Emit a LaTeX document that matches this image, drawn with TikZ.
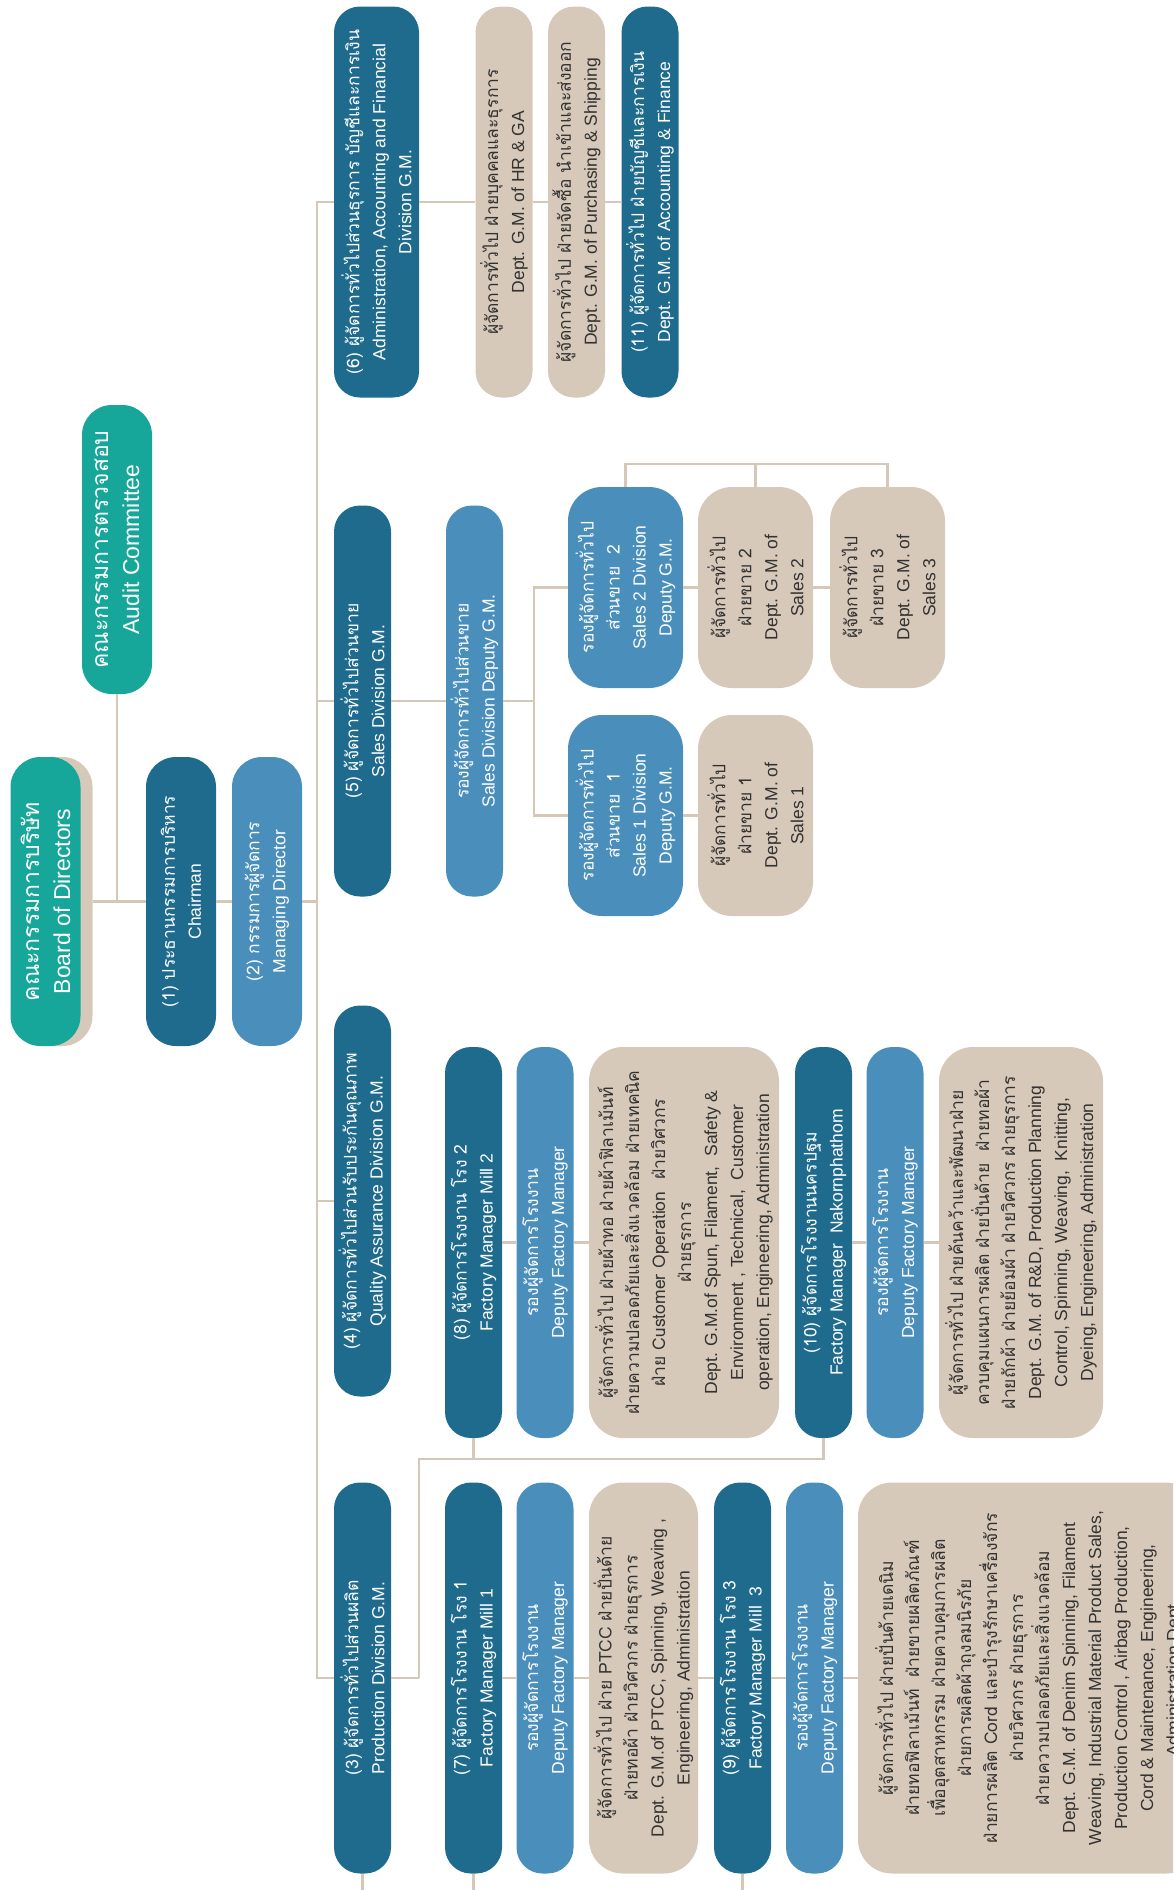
\documentclass[tikz,border=0pt]{standalone}
\usepackage{fontspec}
\setmainfont{Liberation Sans}
\newfontfamily\thaifont[Script=Thai]{Loma}
\usepackage{tikz}
\newcommand*{\thtext}[1]{{\thaifont #1}}
\newcommand*{\fs}{\fontsize{17.5}{26}\selectfont}
\newcommand*{\fsbig}{\fontsize{23}{31}\selectfont}
\definecolor{boardgreen}{RGB}{22,166,154}
\definecolor{chiefblue}{RGB}{30,107,142}
\definecolor{deputyblue}{RGB}{74,143,188}
\definecolor{depttan}{RGB}{214,201,185}
\definecolor{depttext}{RGB}{50,50,50}
\definecolor{linetan}{RGB}{214,200,184}
\tikzstyle{box} = [rectangle, rounded corners=26pt, rotate=90, align=center, inner sep=0pt, font=\fs]
\tikzstyle{card} = [minimum width=201pt, minimum height=115pt, rounded corners=34pt]
\tikzstyle{chief} = [box, pill, fill=chiefblue, text=white]
\tikzstyle{dept} = [box, pill, fill=depttan, text=depttext, rounded corners=34pt]
\tikzstyle{deputy} = [box, pill, fill=deputyblue, text=white]
\tikzstyle{link} = [draw=linetan, line width=2.8pt]
\tikzstyle{pill} = [minimum width=391pt, minimum height=57pt]
\tikzstyle{top} = [minimum width=289pt, minimum height=70pt, rounded corners=30pt]

\begin{document}
\begin{tikzpicture}[x=1pt, y=-1pt]
    \useasboundingbox (0, 0) rectangle (1173, 1890);
    \clip (0, 0) rectangle (1173, 1890);

    % Board level.
    \node (board shadow) [box, top, fill=depttan] at (57.5, 901.5) {};
    \node (board) [box, top, fill=boardgreen, text=white, font=\fsbig] at (45.5, 901.5)
        {\thtext{คณะกรรมการบริษัท}\\Board of Directors};
    \node (audit) [box, top, fill=boardgreen, text=white, font=\fsbig] at (117, 549.5)
        {\thtext{คณะกรรมการตรวจสอบ}\\Audit Committee};
    \node (chairman) [chief, top] at (181, 901.5)
        {\thtext{(1) ประธานกรรมการบริหาร}\\Chairman};
    \node (md) [deputy, top] at (267, 901.5)
        {\thtext{(2) กรรมการผู้จัดการ}\\Managing Director};

    % Administration.
    \node (admin) [chief, minimum height=85pt] at (376.5, 202)
        {\thtext{(6) ผู้จัดการทั่วไปส่วนธุรการ บัญชีและการเงิน}\\Administration, Accounting and Financial\\Division G.M.};
    \node (hr) [dept, rounded corners=26pt] at (504, 202)
        {\thtext{ผู้จัดการทั่วไป ฝ่ายบุคคลและธุรการ}\\Dept. G.M. of HR \& GA};
    \node (purchasing) [dept, rounded corners=26pt] at (576.5, 202)
        {\thtext{ผู้จัดการทั่วไป ฝ่ายจัดซื้อ นำเข้าและส่งออก}\\Dept. G.M. of Purchasing \& Shipping};
    \node (accounting) [chief] at (650, 202)
        {\thtext{(11) ผู้จัดการทั่วไป ฝ่ายบัญชีและการเงิน}\\Dept. G.M. of Accounting \& Finance};

    % Sales.
    \node (sales) [chief] at (362.5, 701)
        {\thtext{(5) ผู้จัดการทั่วไปส่วนขาย}\\Sales Division G.M.};
    \node (sales deputy) [deputy] at (474.5, 701)
        {\thtext{รองผู้จัดการทั่วไปส่วนขาย}\\Sales Division Deputy G.M.};
    \node (sales2 deputy) [deputy, card] at (625.5, 587.5)
        {\thtext{รองผู้จัดการทั่วไป}\\\thtext{ส่วนขาย~~2}\\Sales 2 Division\\Deputy G.M.};
    \node (sales2) [dept, card] at (755.5, 587.5)
        {\thtext{ผู้จัดการทั่วไป}\\\thtext{ฝ่ายขาย 2}\\Dept. G.M. of\\Sales 2};
    \node (sales3) [dept, card] at (887.5, 587.5)
        {\thtext{ผู้จัดการทั่วไป}\\\thtext{ฝ่ายขาย 3}\\Dept. G.M. of\\Sales 3};
    \node (sales1 deputy) [deputy, card] at (625.5, 815.5)
        {\thtext{รองผู้จัดการทั่วไป}\\\thtext{ส่วนขาย~~1}\\Sales 1 Division\\Deputy G.M.};
    \node (sales1) [dept, card] at (755.5, 815.5)
        {\thtext{ผู้จัดการทั่วไป}\\\thtext{ฝ่ายขาย 1}\\Dept. G.M. of\\Sales 1};

    % Quality assurance and Mill 2 / Nakornphathom.
    \node (qa) [chief] at (362.5, 1201)
        {\thtext{(4) ผู้จัดการทั่วไปส่วนรับประกันคุณภาพ}\\Quality Assurance Division G.M.};
    \node (mill2 manager) [chief] at (473.5, 1242.5)
        {\thtext{(8) ผู้จัดการโรงงาน โรง 2}\\Factory Manager Mill 2};
    \node (mill2 deputy) [deputy] at (545, 1242.5)
        {\thtext{รองผู้จัดการโรงงาน}\\Deputy Factory Manager};
    \node (mill2 depts) [dept, minimum height=190pt] at (684, 1242.5)
        {\thtext{ผู้จัดการทั่วไป ฝ่ายผ้าทอ ฝ่ายผ้าฟิลาเม้นท์}\\
         \thtext{ฝ่ายความปลอดภัยและสิ่งแวดล้อม ฝ่ายเทคนิค}\\
         \thtext{ฝ่าย Customer Operation~~ฝ่ายวิศวกร}\\
         \thtext{ฝ่ายธุรการ}\\
         Dept. G.M.of Spun, Filament,~~Safety \&\\
         Environment , Technical,~~Customer\\
         operation, Engineering, Administration};
    \node (np manager) [chief] at (823.5, 1242.5)
        {\thtext{(10) ผู้จัดการโรงงานนครปฐม}\\Factory Manager~~Nakornphathom};
    \node (np deputy) [deputy] at (895, 1242.5)
        {\thtext{รองผู้จัดการโรงงาน}\\Deputy Factory Manager};
    \node (np depts) [dept, minimum height=164pt] at (1021, 1242.5)
        {\thtext{ผู้จัดการทั่วไป ฝ่ายค้นคว้าและพัฒนาฝ่าย}\\
         \thtext{ควบคุมแผนการผลิต ฝ่ายปั่นด้าย~~ฝ่ายทอผ้า}\\
         \thtext{ฝ่ายถักผ้า ฝ่ายย้อมผ้า ฝ่ายวิศวกร ฝ่ายธุรการ}\\
         Dept. G.M. of R\&D, Production Planning\\
         Control, Spinning, Weaving,~~Knitting,\\
         Dyeing, Engineering, Administration};

    % Production, Mill 1 and Mill 3.
    \node (production) [chief] at (362.5, 1678)
        {\thtext{(3) ผู้จัดการทั่วไปส่วนผลิต}\\Production Division G.M.};
    \node (mill1 manager) [chief] at (473.5, 1678)
        {\thtext{(7) ผู้จัดการโรงงาน โรง 1}\\Factory Manager Mill 1};
    \node (mill1 deputy) [deputy] at (545, 1678)
        {\thtext{รองผู้จัดการโรงงาน}\\Deputy Factory Manager};
    \node (mill1 depts) [dept, minimum height=109pt] at (643.5, 1678)
        {\thtext{ผู้จัดการทั่วไป ฝ่าย PTCC ฝ่ายปั่นด้าย}\\
         \thtext{ฝ่ายทอผ้า ฝ่ายวิศวกร ฝ่ายธุรการ}\\
         Dept. G.M.of PTCC, Spinning, Weaving ,\\
         Engineering, Administration};
    \node (mill3 manager) [chief] at (742.5, 1678)
        {\thtext{(9) ผู้จัดการโรงงาน โรง 3}\\Factory Manager Mill~~3};
    \node (mill3 deputy) [deputy] at (814.5, 1678)
        {\thtext{รองผู้จัดการโรงงาน}\\Deputy Factory Manager};
    \node (mill3 depts) [dept, minimum height=342pt] at (1029, 1678)
        {\thtext{ผู้จัดการทั่วไป ฝ่ายปั่นด้ายเดนิม}\\
         \thtext{ฝ่ายทอฟิลาเม้นท์~~ฝ่ายขายผลิตภัณฑ์}\\
         \thtext{เพื่ออุตสาหกรรม ฝ่ายควบคุมการผลิต}\\
         \thtext{ฝ่ายการผลิตผ้าถุงลมนิรภัย}\\
         \thtext{ฝ่ายการผลิต Cord และบำรุงรักษาเครื่องจักร}\\
         \thtext{ฝ่ายวิศวกร ฝ่ายธุรการ}\\
         \thtext{ฝ่ายความปลอดภัยและสิ่งแวดล้อม}\\
         Dept. G.M. of Denim Spinning, Filament\\
         Weaving, Industrial Material Product Sales,\\
         Production Control , Airbag Production,\\
         Cord \& Maintenance, Engineering,\\
         Administration Dept.};

    % Fixed points.
    \coordinate (trunk top) at (317, 202);
    \coordinate (trunk bottom) at (317, 1678);
    \coordinate (sales fork) at (534, 701);
    \coordinate (sales bar) at (0, 464);
    \coordinate (production fork) at (419, 1678);
    \coordinate (production bar) at (0, 1459);
    \coordinate (page bottom) at (0, 1890);

    % Paths.
    \draw [link] (board shadow) -- (chairman) -- (md) -- (md -| trunk top);
    \draw [link] (audit) -- (audit |- board);
    \draw [link] (admin) -- (trunk top) -- (trunk bottom) -- (production) -- (production fork);
    \draw [link] (sales) -- (sales -| trunk top);
    \draw [link] (qa) -- (qa -| trunk top);

    \draw [link] (admin) -- (hr) -- (purchasing) -- (accounting);

    \draw [link] (sales) -- (sales deputy) -- (sales fork);
    \draw [link] (sales2 deputy) -| (sales fork) |- (sales1 deputy);
    \draw [link] (sales2 deputy) -- (sales2) -- (sales3);
    \draw [link] (sales1 deputy) -- (sales1);
    \draw [link] (sales2 deputy) -- (sales2 deputy |- sales bar) -| (sales3);
    \draw [link] (sales2) -- (sales2 |- sales bar);

    \draw [link] (mill2 manager) -- (mill2 deputy) -- (mill2 depts);
    \draw [link] (np manager) -- (np deputy) -- (np depts);
    \draw [link] (production fork) -- (production fork |- production bar) -| (np manager);
    \draw [link] (mill2 manager) -- (mill2 manager |- production bar);

    \draw [link] (mill1 manager) -- (mill1 deputy) -- (mill1 depts) -- (mill3 manager) -- (mill3 deputy) -- (mill3 depts);

    % Off the page.
    \draw [link] (production) -- (production |- page bottom);
    \draw [link] (mill1 manager) -- (mill1 manager |- page bottom);
    \draw [link] (mill3 manager) -- (mill3 manager |- page bottom);
\end{tikzpicture}
\end{document}
